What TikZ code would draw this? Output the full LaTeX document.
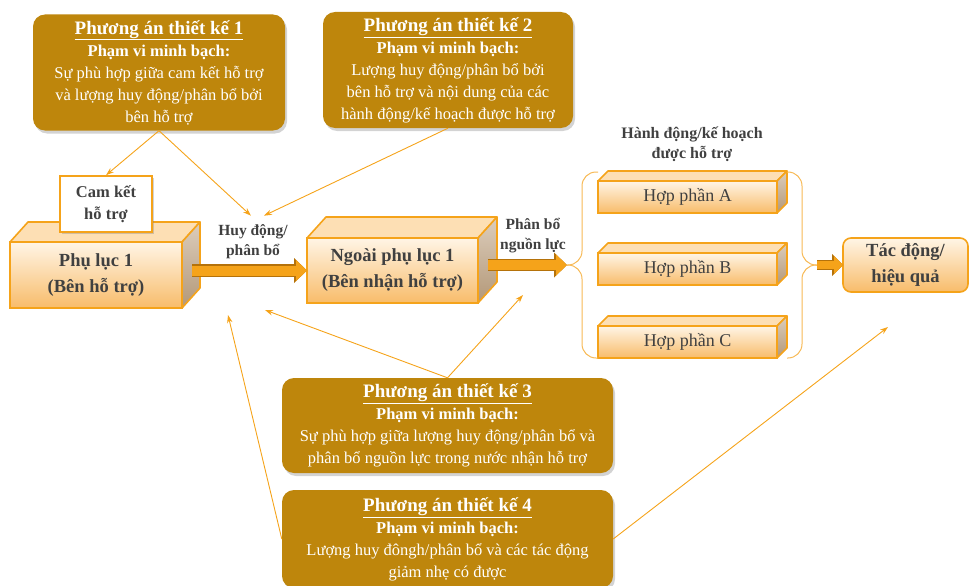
\documentclass[tikz,border=0pt]{standalone}
\usepackage{fontspec}
\setmainfont{Liberation Serif}
\usetikzlibrary{
  arrows.meta,
  positioning,
  calc,
  shadows
}
\definecolor{paGold}{HTML}{BE860C}
\definecolor{ocOrange}{HTML}{F5A31A}
\definecolor{ocBrown}{HTML}{B5720A}
\definecolor{ocLight}{HTML}{FFF5E6}
\definecolor{ocDeep}{HTML}{F8BC6A}
\definecolor{ocTop}{HTML}{FDDFB4}
\definecolor{ocSideA}{HTML}{DCCDBC}
\definecolor{ocSideB}{HTML}{B39878}
\definecolor{ocBrace}{HTML}{F7B955}
\definecolor{txtGray}{HTML}{404040}
\newcommand{\patitle}[1]{{\fontsize{19}{23}\selectfont\bfseries\underline{#1}}}
\tikzset{
  pabox/.style={
    rounded corners=12pt, fill=paGold, text=white, align=center, inner sep=3pt,
    font=\fontsize{16.5}{22}\selectfont,
    drop shadow={opacity=0.35, shadow xshift=2pt, shadow yshift=-3pt}
  },
  front/.style={
    draw=ocOrange, line width=1.6pt, outer sep=0pt, top color=ocLight, bottom color=ocDeep,
    align=center, text=txtGray
  },
  mainbox/.style={front, font=\bfseries\fontsize{18.5}{26}\selectfont},
  hopphan/.style={front, minimum width=179pt, minimum height=32pt, font=\fontsize{18}{20}\selectfont},
  topface/.style={draw=ocOrange, line width=1.6pt, fill=ocTop, line join=round},
  sideface/.style={draw=ocOrange, line width=1.6pt, top color=ocSideA, bottom color=ocSideB, line join=round},
  lbl/.style={font=\bfseries\fontsize{15.5}{20}\selectfont, text=txtGray, align=center, inner sep=1pt},
  blockarrow/.style={
    line width=10pt, ocOrange, -{Triangle[length=11pt, width=21pt, line width=0pt]},
    preaction={draw=ocBrown, line width=12.5pt, -{Triangle[length=13pt, width=25pt, line width=0pt]}}
  },
  smallarrow/.style={
    line width=8pt, ocOrange, -{Triangle[length=9pt, width=18pt, line width=0pt]},
    preaction={draw=ocBrown, line width=10.5pt, -{Triangle[length=11pt, width=22pt, line width=0pt]}}
  },
  linkarrow/.style={-{Stealth[length=8pt, width=5.5pt]}, ocOrange, line width=0.9pt},
  bracket/.style={ocBrace, line width=1pt, rounded corners=14pt}
}

\begin{document}
\begin{tikzpicture}[x=1pt, y=-1pt]
  \useasboundingbox (0,0) rectangle (969,586);

  % design options
  \node[pabox, minimum width=252pt, minimum height=116pt] (pa1) at (159,72.5)
    {\patitle{Phương án thiết kế 1}\\ \textbf{Phạm vi minh bạch:}\\ Sự phù hợp giữa cam kết hỗ trợ\\ và lượng huy động/phân bổ bởi\\ bên hỗ trợ};
  \node[pabox, minimum width=250pt, minimum height=116pt] (pa2) at (448,70)
    {\patitle{Phương án thiết kế 2}\\ \textbf{Phạm vi minh bạch:}\\ Lượng huy động/phân bổ bởi\\ bên hỗ trợ và nội dung của các\\ hành động/kế hoạch được hỗ trợ};
  \node[pabox, minimum width=331pt, minimum height=95pt] (pa3) at (447.5,425.5)
    {\patitle{Phương án thiết kế 3}\\ \textbf{Phạm vi minh bạch:}\\ Sự phù hợp giữa lượng huy động/phân bổ và\\ phân bổ nguồn lực trong nước nhận hỗ trợ};
  \node[pabox, minimum width=331pt, minimum height=98pt] (pa4) at (447.5,539)
    {\patitle{Phương án thiết kế 4}\\ \textbf{Phạm vi minh bạch:}\\ Lượng huy đôngh/phân bổ và các tác động\\ giảm nhẹ có được};

  % supporting party
  \node[mainbox, minimum width=172pt, minimum height=66pt] (pl1) at (96,275) {Phụ lục 1\\(Bên hỗ trợ)};
  \draw[topface] (pl1.north west) -- ++(18,-20) -- ([shift={(18,-20)}]pl1.north east) -- (pl1.north east) -- cycle;
  \draw[sideface] (pl1.north east) -- ++(18,-20) -- ([shift={(18,-20)}]pl1.south east) -- (pl1.south east) -- cycle;
  \node[draw=ocOrange, line width=1.6pt, fill=white, minimum width=92pt, minimum height=56pt,
    font=\bfseries\fontsize{16.5}{22}\selectfont, text=txtGray, align=center,
    drop shadow={opacity=0.35, shadow xshift=2pt, shadow yshift=-2pt}] (cam) at (106,204) {Cam kết\\hỗ trợ};

  % receiving party
  \node[mainbox, minimum width=171pt, minimum height=65pt] (ngoai) at (392.5,270.5) {Ngoài phụ lục 1\\(Bên nhận hỗ trợ)};
  \draw[topface] (ngoai.north west) -- ++(19,-21) -- ([shift={(19,-21)}]ngoai.north east) -- (ngoai.north east) -- cycle;
  \draw[sideface] (ngoai.north east) -- ++(19,-21) -- ([shift={(19,-21)}]ngoai.south east) -- (ngoai.south east) -- cycle;

  % supported actions
  \node[lbl, font=\bfseries\fontsize{16}{20}\selectfont] (hdkh) at (692,144) {Hành động/kế hoạch\\được hỗ trợ};
  \node[hopphan] (hpA) at (687.5,197) {Hợp phần A};
  \node[hopphan] (hpB) at (687.5,269) {Hợp phần B};
  \node[hopphan] (hpC) at (687.5,342) {Hợp phần C};
  \foreach \n in {hpA, hpB, hpC} {
    \draw[topface] (\n.north west) -- ++(10,-10) -- ([shift={(10,-10)}]\n.north east) -- (\n.north east) -- cycle;
    \draw[sideface] (\n.north east) -- ++(10,-10) -- ([shift={(10,-10)}]\n.south east) -- (\n.south east) -- cycle;
  }
  \coordinate (brL) at (567,265);
  \coordinate (brR) at (817,265);
  \draw[bracket] (598,172) -- (582,172) -- (582,265) -- (brL);
  \draw[bracket] (598,358) -- (582,358) -- (582,265) -- (brL);
  \draw[bracket] (787,172) -- (802,172) -- (802,265) -- (brR);
  \draw[bracket] (787,358) -- (802,358) -- (802,265) -- (brR);

  \node[front, rounded corners=8pt, minimum width=125pt, minimum height=54pt,
    font=\bfseries\fontsize{18.5}{26}\selectfont] (tac) at (905.5,265) {Tác động/\\hiệu quả};

  % flows
  \node[lbl] (hd) at (253,242) {Huy động/\\phân bổ};
  \node[lbl] (pb) at (533,236) {Phân bổ\\nguồn lực};
  \draw[blockarrow] ($(pl1.east |- ngoai.west)+(10,0)$) -- (ngoai.west);
  \draw[blockarrow] ($(ngoai.east |- brL)+(10,0)$) -- (brL);
  \draw[smallarrow] (brR) -- (tac.west);

  % scope links
  \coordinate (hdFoot) at (265,310);
  \coordinate (pbFoot) at (523,295);
  \coordinate (plFoot) at (228,315);
  \coordinate (tacFoot) at (888,327);
  \draw[linkarrow] (pa1.south) -- (cam.north);
  \draw[linkarrow] (pa1.south) -- ([xshift=-2pt, yshift=8pt]hd.north);
  \draw[linkarrow] (pa2.south) -- ([xshift=11pt, yshift=8pt]hd.north);
  \draw[linkarrow] (pa3.north) -- (hdFoot);
  \draw[linkarrow] (pa3.north) -- (pbFoot);
  \draw[linkarrow] (pa4.west) -- (plFoot);
  \draw[linkarrow] (pa4.east) -- (tacFoot);
\end{tikzpicture}
\end{document}
